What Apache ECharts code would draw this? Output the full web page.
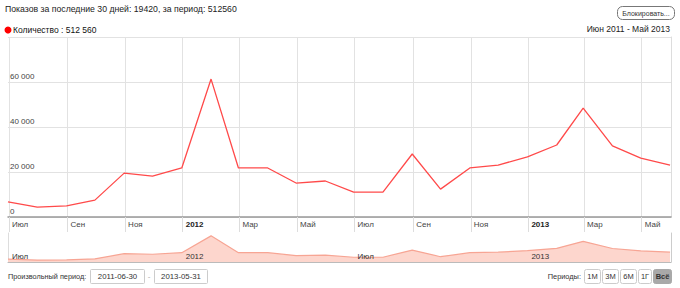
<!DOCTYPE html>
<html>
<head>
<meta charset="utf-8">
<script src="https://cdn.jsdelivr.net/npm/echarts@6/dist/echarts.min.js"></script>
<style>
html,body{margin:0;padding:0;background:#fff;}
#c{width:680px;height:288px;}
</style>
</head>
<body>
<div id="c"></div>
<script>
// ---- data ----
const pointDates = ['2011-06-30','2011-07-31','2011-08-31','2011-09-30','2011-10-31','2011-11-30','2011-12-31',
  '2012-01-31','2012-02-29','2012-03-31','2012-04-30','2012-05-31','2012-06-30','2012-07-31','2012-08-31',
  '2012-09-30','2012-10-31','2012-11-30','2012-12-31','2013-01-31','2013-02-28','2013-03-31','2013-04-30','2013-05-31'];
const counts = [6700,4400,4900,7500,19500,18200,21800,
  61300,21800,21800,15100,16000,11100,11100,28000,
  12400,21800,23100,26700,32000,48400,31600,26200,23100];
const tickDates = ['2011-07-01','2011-09-01','2011-11-01','2012-01-01','2012-03-01','2012-05-01',
  '2012-07-01','2012-09-01','2012-11-01','2013-01-01','2013-03-01','2013-05-01'];
const tickLabels = ['Июл','Сен','Ноя','2012','Мар','Май','Июл','Сен','Ноя','2013','Мар','Май'];
const navTickDates = ['2011-07-01','2012-01-01','2012-07-01','2013-01-01'];
const navTickLabels = ['Июл','2012','Июл','2013'];
const yTickValues = [0,20000,40000,60000,80000];
const yTickLabels = ['0','20 000','40 000','60 000',''];
const axisStart = '2011-06-30';
const axisEnd = '2013-06-01';
const headerText = 'Показов за последние 30 дней: 19420, за период: 512560';
const legendText = 'Количество : 512 560';
const rangeText = 'Июн 2011 - Май 2013';
const fromDate = '2011-06-30';
const toDate = '2013-05-31';
const periodButtons = ['1М','3М','6М','1Г','Всё'];

// numeric day axis (days since epoch, UTC)
function dayNum(s){const p=s.split('-').map(Number);return Math.round(Date.UTC(p[0],p[1]-1,p[2])/86400000);}
const seriesData = pointDates.map((d,i)=>[dayNum(d),counts[i]]);
const tickVals = tickDates.map(dayNum);
const navVals = navTickDates.map(dayNum);
const boldYears = {'2012':1,'2013':1};
const FONT = 'Liberation Sans, Arial, sans-serif';

const chart = echarts.init(document.getElementById('c'), null, {renderer:'svg'});

const btnX = [584,602,620,638,653];
const btnW = [16,16,16,13,18];
const graphics = [
  {type:'text', left:5, top:4, style:{text:headerText, font:'8.7px '+FONT, fill:'#222'}},
  {type:'rect', shape:{x:617.5,y:6.5,width:57,height:13,r:5}, style:{fill:'#fff', stroke:'#777', lineWidth:1}},
  {type:'text', x:646, y:13, style:{text:'Блокировать...', font:'7px '+FONT, fill:'#333', align:'center', verticalAlign:'middle'}},
  {type:'circle', shape:{cx:8,cy:30,r:3.5}, style:{fill:'#ff0000'}},
  {type:'text', x:13, y:30, style:{text:legendText, font:'8.5px '+FONT, fill:'#111', verticalAlign:'middle'}},
  {type:'text', x:670, y:29, style:{text:rangeText, font:'8.5px '+FONT, fill:'#222', align:'right', verticalAlign:'middle'}},
  {type:'text', x:8, y:276.5, style:{text:'Произвольный период:', font:'7.3px '+FONT, fill:'#333', verticalAlign:'middle'}},
  {type:'rect', shape:{x:90.5,y:269.5,width:54,height:14,r:1}, style:{fill:'#fff', stroke:'#ccc'}},
  {type:'text', x:117.5, y:276.5, style:{text:fromDate, font:'7.8px '+FONT, fill:'#333', align:'center', verticalAlign:'middle'}},
  {type:'text', x:149, y:276.5, style:{text:'-', font:'8px '+FONT, fill:'#aaa', align:'center', verticalAlign:'middle'}},
  {type:'rect', shape:{x:154.5,y:269.5,width:53,height:14,r:1}, style:{fill:'#fff', stroke:'#ccc'}},
  {type:'text', x:181, y:276.5, style:{text:toDate, font:'7.8px '+FONT, fill:'#333', align:'center', verticalAlign:'middle'}},
  {type:'text', x:581, y:276.5, style:{text:'Периоды:', font:'7.4px '+FONT, fill:'#333', align:'right', verticalAlign:'middle'}}
];
periodButtons.forEach((b,i)=>{
  const last = i===periodButtons.length-1;
  graphics.push({type:'rect', shape:{x:btnX[i]+0.5,y:269.5,width:btnW[i],height:14,r:2}, style:{fill:last?'#a9a9a9':'#fff', stroke:last?'#a9a9a9':'#ccc'}});
  graphics.push({type:'text', x:btnX[i]+btnW[i]/2+0.5, y:276.5, style:{text:b, font:(last?'bold ':'')+'7.5px '+FONT, fill:'#333', align:'center', verticalAlign:'middle'}});
});

chart.setOption({
  animation:false,
  textStyle:{fontFamily:FONT},
  graphic:graphics,
  grid:[
    {left:8, right:9, top:37, height:180},
    {left:8, right:9, top:233, height:29}
  ],
  xAxis:[
    {type:'value', gridIndex:0, min:dayNum(axisStart), max:dayNum(axisEnd),
      axisLine:{show:true, lineStyle:{color:'#999', width:1.5}},
      axisTick:{show:true, length:15, customValues:tickVals, lineStyle:{color:'#ddd'}},
      splitLine:{show:true, lineStyle:{color:'#e2e2e2'}},
      axisLabel:{customValues:tickVals, align:'left', margin:3, padding:[0,0,0,3], fontSize:8, color:'#444',
        formatter:function(v){const i=tickVals.indexOf(v);const t=i>=0?tickLabels[i]:'';return boldYears[t]?'{b|'+t+'}':t;},
        rich:{b:{fontWeight:'bold', fontSize:8, color:'#222'}}}
    },
    {type:'value', gridIndex:1, min:dayNum(axisStart), max:dayNum(axisEnd), z:10,
      axisLine:{show:true, lineStyle:{color:'#bbb'}},
      axisTick:{show:false, customValues:navVals},
      splitLine:{show:false},
      axisLabel:{inside:true, customValues:navVals, align:'left', margin:2, padding:[0,0,0,3], fontSize:8, color:'#333',
        formatter:function(v){const i=navVals.indexOf(v);return i>=0?navTickLabels[i]:'';}}
    }
  ],
  yAxis:[
    {type:'value', gridIndex:0, min:0, max:80000, interval:20000,
      axisLine:{show:false}, axisTick:{show:false},
      splitLine:{show:true, lineStyle:{color:'#e2e2e2'}},
      axisLabel:{inside:true, margin:2, verticalAlign:'bottom', padding:[0,0,2,0], fontSize:8, color:'#444',
        formatter:function(v){const i=yTickValues.indexOf(v);return i>=0?yTickLabels[i]:'';}}
    },
    {type:'value', gridIndex:1, min:0, max:68000,
      axisLine:{show:true, lineStyle:{color:'#ddd'}}, axisTick:{show:false}, axisLabel:{show:false}, splitLine:{show:false}},
    {type:'value', gridIndex:0, position:'right', min:0, max:80000,
      axisLine:{show:true, lineStyle:{color:'#ddd'}}, axisTick:{show:false}, axisLabel:{show:false}, splitLine:{show:false}},
    {type:'value', gridIndex:1, position:'right', min:0, max:68000,
      axisLine:{show:true, lineStyle:{color:'#ccc'}}, axisTick:{show:false}, axisLabel:{show:false}, splitLine:{show:false}}
  ],
  series:[
    {type:'line', xAxisIndex:0, yAxisIndex:0, data:seriesData, showSymbol:false, symbol:'none',
      lineStyle:{color:'#ff4a4a', width:1.3}, z:5},
    {type:'line', xAxisIndex:1, yAxisIndex:1, data:seriesData, showSymbol:false, symbol:'none',
      lineStyle:{color:'#f7a594', width:1.2}, areaStyle:{color:'#fdd6cd', opacity:1}, z:2}
  ]
});
</script>
</body>
</html>
